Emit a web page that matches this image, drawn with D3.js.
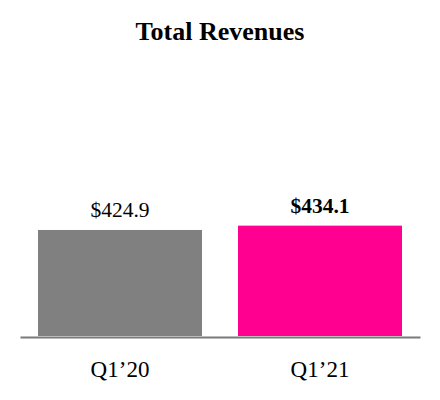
<html>
<head>
<script src="https://d3js.org/d3.v7.min.js"></script>
<style>
  body { margin: 0; background: #fff; }
  text { font-family: "Liberation Serif", "Times New Roman", serif; fill: #000; }
</style>
</head>
<body>
<svg width="440" height="400"></svg>
<script>
// chart data
var categories = ["Q1\u201920", "Q1\u201921"];
var revenues = [424.9, 434.1];
var valueLabels = ["$424.9", "$434.1"];
var barColors = ["#808080", "#ff0090"];

var svg = d3.select("svg");

// x band, bars 164px wide
var x = d3.scaleBand()
  .domain(categories)
  .range([20, 420])
  .paddingInner(0.18)
  .paddingOuter(0.09);

// axis does not start at zero
var y = d3.scaleLinear()
  .domain([200, 700])
  .range([336, 100.3]);

// title
svg.append("text")
  .attr("x", 220)
  .attr("y", 40)
  .attr("text-anchor", "middle")
  .style("font-size", "26px")
  .style("font-weight", "bold")
  .text("Total Revenues");

// bars
svg.selectAll(".bar")
  .data(revenues)
  .enter()
  .append("rect")
  .attr("class", "bar")
  .attr("x", function(d, i) { return x(categories[i]); })
  .attr("y", function(d) { return y(d); })
  .attr("width", x.bandwidth())
  .attr("height", function(d) { return y(200) - y(d); })
  .style("fill", function(d, i) { return barColors[i]; });

// value labels
svg.selectAll(".val")
  .data(revenues)
  .enter()
  .append("text")
  .attr("class", "val")
  .attr("x", function(d, i) { return x(categories[i]) + x.bandwidth() / 2; })
  .attr("y", function(d) { return y(d) - 12.5; })
  .attr("text-anchor", "middle")
  .style("font-size", "21.5px")
  .style("font-weight", function(d, i) { return i == 1 ? "bold" : "normal"; })
  .text(function(d, i) { return valueLabels[i]; });

// x axis: baseline + labels
var xAxis = svg.append("g")
  .attr("transform", "translate(0,337)")
  .call(d3.axisBottom(x).tickSize(0).tickPadding(40));

xAxis.select(".domain")
  .attr("stroke", "#7a7a7a")
  .attr("stroke-width", 2);

xAxis.selectAll(".tick text")
  .style("font-size", "23px")
  .style("font-family", "Liberation Serif, Times New Roman, serif")
  .attr("dy", "0");
</script>
</body>
</html>
